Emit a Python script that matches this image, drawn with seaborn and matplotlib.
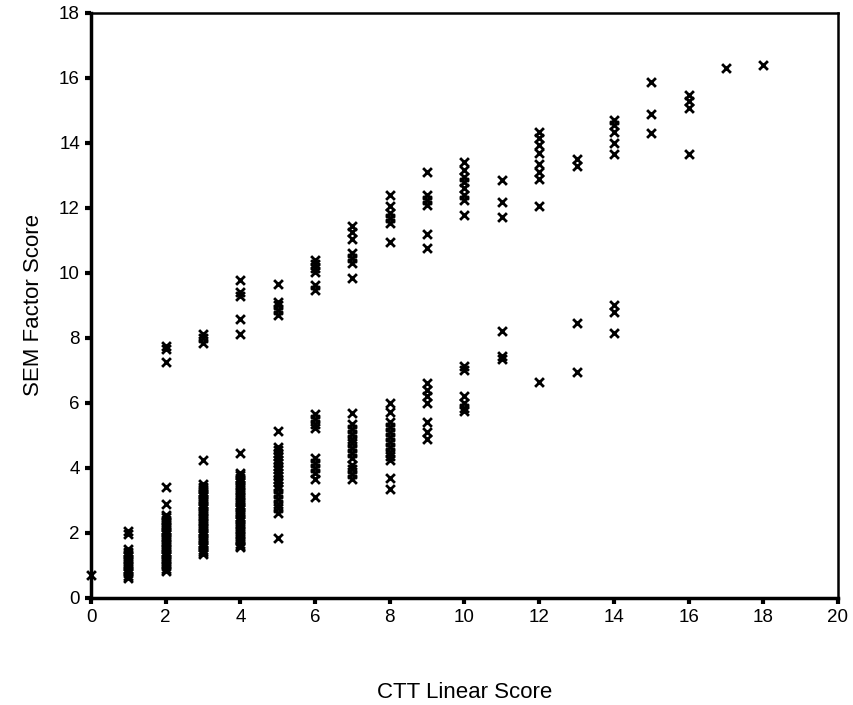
import matplotlib
matplotlib.use("Agg")
import matplotlib.pyplot as plt
import numpy as np
import pandas as pd
import seaborn as sns

sem_at_0 = [0.7]
sem_at_1 = [2.05, 1.98, 1.5, 1.42, 1.35, 1.28, 1.2, 1.12, 1.05, 0.98, 0.9, 0.82, 0.75, 0.68, 0.62]
sem_at_2 = [7.75, 7.65, 7.26, 3.4, 2.9, 2.55, 2.48, 2.4, 2.32, 2.25, 2.18, 2.1, 2.02, 1.95, 1.88,
            1.8, 1.72, 1.65, 1.58, 1.5, 1.42, 1.35, 1.28, 1.2, 1.12, 1.05, 0.98, 0.9, 0.82]
sem_at_3 = [8.12, 8.0, 7.85, 4.25, 3.5, 3.42, 3.35, 3.27, 3.2, 3.12, 3.05, 2.97, 2.9, 2.82, 2.75,
            2.67, 2.6, 2.52, 2.45, 2.37, 2.3, 2.22, 2.15, 2.07, 2.0, 1.92, 1.85, 1.77, 1.7,
            1.62, 1.55, 1.47, 1.4, 1.35]
sem_at_4 = [9.78, 9.4, 9.3, 8.58, 8.12, 4.46, 3.85, 3.77, 3.7, 3.62, 3.55, 3.47, 3.4, 3.32, 3.25,
            3.17, 3.1, 3.02, 2.95, 2.87, 2.8, 2.72, 2.65, 2.57, 2.5, 2.42, 2.35, 2.27, 2.2,
            2.12, 2.05, 1.97, 1.9, 1.82, 1.75, 1.67, 1.6, 1.55]
sem_at_5 = [9.66, 9.1, 9.0, 8.85, 8.7, 5.15, 4.65, 4.55, 4.45, 4.35, 4.25, 4.15, 4.05, 3.95, 3.85,
            3.75, 3.65, 3.55, 3.45, 3.35, 3.2, 3.05, 2.9, 2.75, 2.6, 1.85]
sem_at_6 = [10.4, 10.28, 10.15, 10.02, 9.63, 9.47, 5.65, 5.5, 5.35, 5.22, 4.3, 4.15, 4.0,
            3.85, 3.65, 3.1]
sem_at_7 = [11.45, 11.25, 11.05, 10.6, 10.45, 10.3, 9.85, 5.68, 5.35, 5.2, 5.05, 4.9, 4.75,
            4.6, 4.45, 4.3, 4.1, 3.95, 3.8, 3.65]
sem_at_8 = [12.4, 12.06, 11.85, 11.7, 11.55, 10.95, 6.0, 5.72, 5.4, 5.25, 5.1, 4.95, 4.8, 4.65,
            4.5, 4.35, 4.25, 3.7, 3.35]
sem_at_9 = [13.1, 12.4, 12.25, 12.1, 11.2, 10.77, 6.6, 6.4, 6.2, 6.0, 5.4, 5.1, 4.88]
sem_at_10 = [13.42, 13.17, 12.95, 12.8, 12.6, 12.4, 12.25, 11.78, 7.12, 7.02, 6.2, 6.0, 5.85, 5.75]
sem_at_11 = [12.86, 12.18, 11.72, 8.2, 7.45, 7.35]
sem_at_12 = [14.35, 14.15, 13.95, 13.7, 13.35, 13.1, 12.9, 12.06, 6.65]
sem_at_13 = [13.5, 13.3, 8.45, 6.95]
sem_at_14 = [14.7, 14.55, 14.35, 14.0, 13.66, 9.0, 8.8, 8.15]
sem_at_15 = [15.88, 14.9, 14.3]
sem_at_16 = [15.48, 15.3, 15.08, 13.66]
sem_at_17 = [16.3]
sem_at_18 = [16.4]

columns = [sem_at_0, sem_at_1, sem_at_2, sem_at_3, sem_at_4, sem_at_5, sem_at_6, sem_at_7,
           sem_at_8, sem_at_9, sem_at_10, sem_at_11, sem_at_12, sem_at_13, sem_at_14,
           sem_at_15, sem_at_16, sem_at_17, sem_at_18]

rows = []
for ctt, vals in enumerate(columns):
    for v in vals:
        rows.append((ctt, v))
df = pd.DataFrame(rows, columns=["ctt", "sem"])

sns.set_style("white")
plt.rcParams["font.family"] = ["Liberation Sans", "DejaVu Sans"]
plt.rcParams["text.color"] = "black"
plt.rcParams["axes.labelcolor"] = "black"
plt.rcParams["xtick.color"] = "black"
plt.rcParams["ytick.color"] = "black"

fig = plt.figure(figsize=(8.54, 7.05), dpi=100)
ax = fig.add_axes([0.1066, 0.152, 0.8746, 0.8296])

sns.scatterplot(data=df, x="ctt", y="sem", marker="x", color="black", s=40,
                linewidth=2, ax=ax, clip_on=False, legend=False)

ax.set_xlim(0, 20)
ax.set_ylim(0, 18)
ax.set_xticks(np.arange(0, 21, 2))
ax.set_yticks(np.arange(0, 19, 2))
ax.tick_params(axis="both", direction="out", length=4, width=3, labelsize=13.5,
               colors="black", pad=4, bottom=True, left=True)
for side in ["left", "bottom"]:
    ax.spines[side].set_linewidth(2.5)
for side in ["top", "right"]:
    ax.spines[side].set_linewidth(1.8)
for sp in ax.spines.values():
    sp.set_color("black")

ax.set_xlabel("CTT Linear Score", fontsize=16, labelpad=40, color="black")
ax.set_ylabel("SEM Factor Score", fontsize=16, labelpad=11, color="black")

fig.savefig("out.png", dpi=100)
